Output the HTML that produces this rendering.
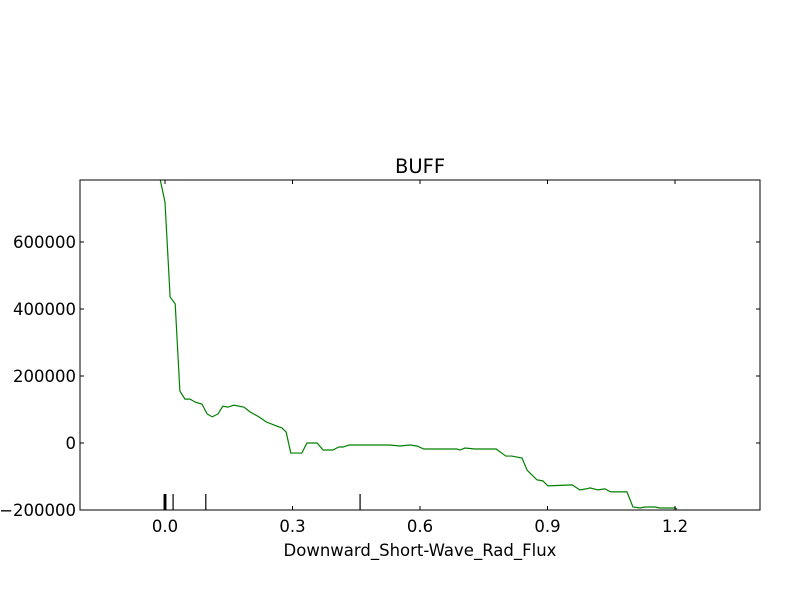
<!DOCTYPE html>
<html><head><meta charset="utf-8"><style>body{margin:0;background:#fff}svg{display:block}text{font-family:"DejaVu Sans","Liberation Sans",sans-serif;fill:#000}</style></head>
<body>
<svg id="chart" width="800" height="600"></svg>
<script>
const xs=[-0.012,0,0.012,0.024,0.035,0.047,0.059,0.071,0.087,0.099,0.111,0.125,0.136,0.148,0.162,0.186,0.2,0.221,0.238,0.256,0.275,0.285,0.296,0.322,0.334,0.358,0.372,0.395,0.409,0.419,0.433,0.529,0.553,0.576,0.593,0.609,0.624,0.687,0.694,0.706,0.729,0.779,0.802,0.816,0.84,0.852,0.875,0.889,0.901,0.958,0.976,0.991,1.0,1.019,1.035,1.049,1.087,1.101,1.118,1.129,1.153,1.165,1.2,1.205];
const ys=[790000,719000,436000,415000,155000,131000,131000,122000,116000,87000,78000,87000,110000,107000,113000,107000,93000,78000,63000,54000,45000,33000,-30000,-30000,0,0,-21000,-21000,-12000,-12000,-6000,-6000,-9000,-6000,-9000,-18000,-18000,-18000,-21000,-15000,-18000,-18000,-39000,-39000,-45000,-81000,-110000,-113000,-128000,-125000,-140000,-137000,-134000,-140000,-137000,-146000,-146000,-191000,-194000,-191000,-191000,-194000,-194000,-197000];
const rug=[-0.002,0,0.002,0.019,0.096,0.459];
const xTicks=[0.0,0.3,0.6,0.9,1.2];
const xTickLabels=["0.0","0.3","0.6","0.9","1.2"];
const yTicks=[-200000,0,200000,400000,600000];
const yTickLabels=["−200000","0","200000","400000","600000"];
const L=80,R=760,T=180,B=510,X0=-0.2,X1=1.4,Y0=-200000,Y1=785000;
const sx=v=>L+(v-X0)/(X1-X0)*(R-L), sy=v=>B-(v-Y0)/(Y1-Y0)*(B-T);
const svg=document.getElementById('chart'),NS='http://www.w3.org/2000/svg';
function mk(t,a,p){const e=document.createElementNS(NS,t);for(const k in a)e.setAttribute(k,a[k]);(p||svg).appendChild(e);return e;}
const defs=mk('defs',{});const cp=mk('clipPath',{id:'c'},defs);mk('rect',{x:L,y:T,width:R-L,height:B-T},cp);
const line=mk('polyline',{points:xs.map((x,i)=>sx(x)+','+sy(ys[i])).join(' '),fill:'none',stroke:'#008000','stroke-width':1.2,'clip-path':'url(#c)'});


rug.forEach(v=>{const r=mk('line',{x1:sx(v),x2:sx(v),y1:B,y2:B-16,stroke:'#000','stroke-width':1.2});

});
const fr=mk('rect',{x:L,y:T,width:R-L,height:B-T,fill:'none',stroke:'#000','stroke-width':1});


xTicks.forEach((v,i)=>{const x=sx(v);mk('line',{x1:x,x2:x,y1:B,y2:B-4,stroke:'#000'});mk('line',{x1:x,x2:x,y1:T,y2:T+4,stroke:'#000'});
const t=mk('text',{x:x,y:B+22,'text-anchor':'middle','font-size':16.5});t.textContent=xTickLabels[i];

});
yTicks.forEach((v,i)=>{const y=sy(v);mk('line',{x1:L,x2:L+4,y1:y,y2:y,stroke:'#000'});mk('line',{x1:R,x2:R-4,y1:y,y2:y,stroke:'#000'});
const t=mk('text',{x:L-4,y:y+6,'text-anchor':'end','font-size':16.5});t.textContent=yTickLabels[i];

});
const ti=mk('text',{x:420,y:173,'text-anchor':'middle','font-size':19.5});ti.textContent='BUFF';


const xl=mk('text',{x:420,y:556,'text-anchor':'middle','font-size':16.5});xl.textContent='Downward_Short-Wave_Rad_Flux';


</script>
</body></html>
